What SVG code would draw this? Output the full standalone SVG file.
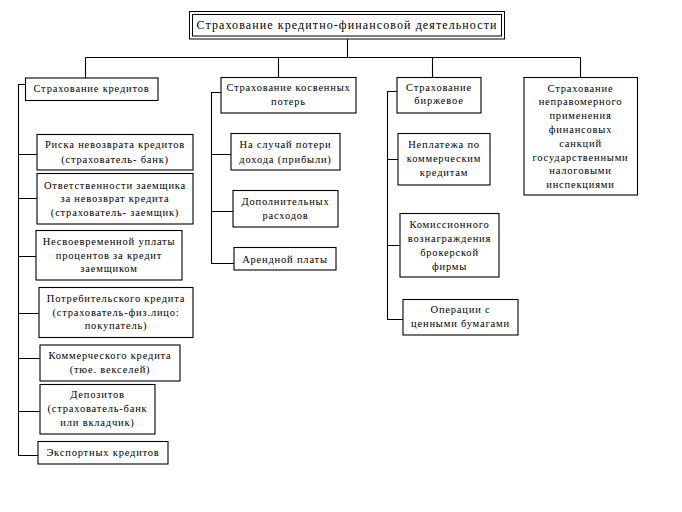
<svg xmlns="http://www.w3.org/2000/svg" width="682" height="512" viewBox="0 0 682 512">
<style>
.b{fill:#fff;stroke:#000;stroke-width:1.1}
.c{fill:none;stroke:#000;stroke-width:1.1}
text{font-family:"Liberation Serif","Times New Roman",serif;font-size:10.5px;letter-spacing:0.8px;text-anchor:middle;fill:#000}
.t{font-size:12px;letter-spacing:1.1px}
</style>
<rect width="682" height="512" fill="#fff"/>
<g id="connectors">
<path class="c" d="M347.5,39V57.5M85.5,57.5H580.5M85.5,57.5V78M278.5,57.5V77M432.5,57.5V77M580.5,57.5V77"/>
<path class="c" d="M25,84.5H18.5V455.5H38M18.5,154.5H37M18.5,198.5H37M18.5,256.5H36M18.5,313.5H39M18.5,358.5H40M18.5,411.5H40"/>
<path class="c" d="M221,92.5H211.5V263.5H234M211.5,154.5H231M211.5,211.5H233"/>
<path class="c" d="M397,91.5H387.5V319.5H403M387.5,159.5H398M387.5,245.5H400"/>
</g>
<g id="title">
<rect x="189.5" y="11.5" width="315" height="27.5" fill="#fff" stroke="#000" stroke-width="1"/>
<rect x="192.5" y="14.5" width="309" height="21.5" fill="none" stroke="#000" stroke-width="1"/>
<text class="t" x="347" y="29">Страхование кредитно-финансовой деятельности</text>
</g>
<g id="n1"><rect class="b" x="25.5" y="78" width="132.5" height="22.5"/><text x="91.5" y="92">Страхование кредитов</text></g>
<g id="n1a"><rect class="b" x="37" y="134.5" width="156" height="35.5"/><text x="115" y="148">Риска невозврата кредитов</text><text x="115" y="163">(страхователь- банк)</text></g>
<g id="n1b"><rect class="b" x="37" y="173.5" width="156" height="50.5"/><text x="115" y="189">Ответственности заемщика</text><text x="115" y="202">за невозврат кредита</text><text x="115" y="215.5">(страхователь- заемщик)</text></g>
<g id="n1c"><rect class="b" x="36" y="230.5" width="146" height="49.5"/><text x="109" y="245">Несвоевременной уплаты</text><text x="109" y="258.5">процентов за кредит</text><text x="109" y="272">заемщиком</text></g>
<g id="n1d"><rect class="b" x="39" y="287.5" width="154" height="50"/><text x="116" y="302">Потребительского кредита</text><text x="116" y="315.5">(страхователь-физ.лицо:</text><text x="116" y="329">покупатель)</text></g>
<g id="n1e"><rect class="b" x="40" y="345" width="140" height="36"/><text x="110" y="359">Коммерческого кредита</text><text x="110" y="372.5">(тюе. векселей)</text></g>
<g id="n1f"><rect class="b" x="40" y="384.5" width="115" height="49.5"/><text x="97.5" y="398">Депозитов</text><text x="97.5" y="411.5">(страхователь-банк</text><text x="97.5" y="425.5">или вкладчик)</text></g>
<g id="n1g"><rect class="b" x="38" y="441.5" width="130" height="22.5"/><text x="103" y="455.5">Экспортных кредитов</text></g>
<g id="n2"><rect class="b" x="221" y="77.5" width="135" height="35.5"/><text x="288.5" y="91">Страхование косвенных</text><text x="288.5" y="105">потерь</text></g>
<g id="n2a"><rect class="b" x="231" y="133.5" width="109" height="36.5"/><text x="285.5" y="148">На случай потери</text><text x="285.5" y="162.5">дохода (прибыли)</text></g>
<g id="n2b"><rect class="b" x="233" y="190.5" width="105" height="36.5"/><text x="285.5" y="205">Дополнительных</text><text x="285.5" y="218.5">расходов</text></g>
<g id="n2c"><rect class="b" x="234" y="247.5" width="102" height="22.5"/><text x="285" y="262.5">Арендной платы</text></g>
<g id="n3"><rect class="b" x="397" y="77.5" width="84" height="35.5"/><text x="439" y="91">Страхование</text><text x="439" y="104">биржевое</text></g>
<g id="n3a"><rect class="b" x="398" y="133.5" width="92" height="51.5"/><text x="444" y="148">Неплатежа по</text><text x="444" y="161.5">коммерческим</text><text x="444" y="175.5">кредитам</text></g>
<g id="n3b"><rect class="b" x="400" y="213.5" width="99" height="63.5"/><text x="449.5" y="228">Комиссионного</text><text x="449.5" y="241.5">вознаграждения</text><text x="449.5" y="255.5">брокерской</text><text x="449.5" y="269.5">фирмы</text></g>
<g id="n3c"><rect class="b" x="403" y="299.5" width="115" height="35.5"/><text x="460.5" y="313">Операции с</text><text x="460.5" y="326.5">ценными бумагами</text></g>
<g id="n4"><rect class="b" x="524" y="77.5" width="113.5" height="117.5"/><text x="580.5" y="91.5">Страхование</text><text x="580.5" y="105.3">неправомерного</text><text x="580.5" y="119.1">применения</text><text x="580.5" y="132.9">финансовых</text><text x="580.5" y="146.7">санкций</text><text x="580.5" y="160.5">государственными</text><text x="580.5" y="174.3">налоговыми</text><text x="580.5" y="188.1">инспекциями</text></g>
</svg>
